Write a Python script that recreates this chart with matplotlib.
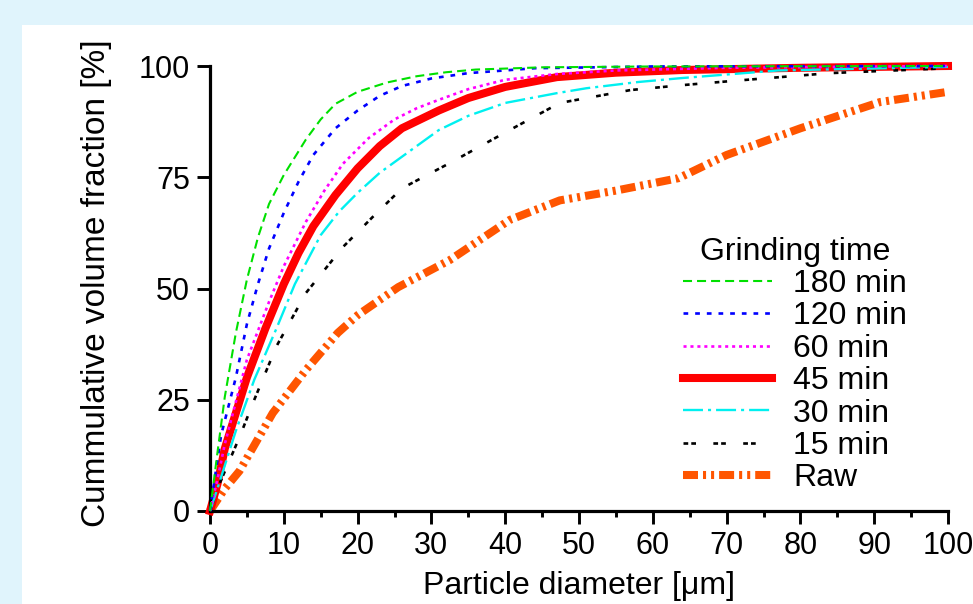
import matplotlib
matplotlib.use("Agg")
import matplotlib.pyplot as plt
from matplotlib.patches import Rectangle
from matplotlib.ticker import MultipleLocator

plt.rcParams['font.family'] = ['Liberation Sans', 'DejaVu Sans']
plt.rcParams['lines.scale_dashes'] = False

# ---- data ----
x_180 = [0, 1, 2, 3.5, 5, 6.5, 8, 10, 13, 15, 17, 20, 24, 28, 32, 36, 45, 60, 100]
y_180 = [0, 13, 25.6, 40, 52, 61.5, 69, 75.5, 83.5, 88, 91.5, 94.2, 96.3, 97.7, 98.6, 99.2, 99.7, 99.9, 100]

x_120 = [0, 1.5, 3.5, 5, 6.5, 8, 10, 12, 14, 17, 20, 23, 26, 30, 35, 44, 60, 100]
y_120 = [0, 17, 30, 42, 51, 59, 67, 74, 80, 86, 90, 93.3, 95.5, 97.2, 98.4, 99.5, 99.9, 100]

x_60 = [0, 1, 2, 5, 8, 10, 13, 15.5, 18, 21.5, 25, 28, 31, 35, 40, 47, 55, 70, 100]
y_60 = [0, 7, 15, 34, 47, 55, 65, 72, 78, 83.8, 88, 90.5, 92.4, 94.8, 96.9, 98.2, 99, 99.6, 100]

x_45 = [0, 1, 2, 5, 7.5, 10, 12, 14, 17, 20, 23, 26, 31, 35, 40, 47, 55, 64, 80, 100]
y_45 = [0, 6, 14, 30, 41, 51, 58, 64, 71, 77, 82, 86, 90, 92.8, 95.3, 97.5, 98.5, 99.1, 99.6, 100]

x_30 = [0, 1, 3.5, 6, 9, 11.5, 15, 17.5, 20, 23, 26, 31, 35, 40, 47, 51, 58, 64, 77, 100]
y_30 = [0, 5, 18, 29.5, 41, 51, 62, 67.3, 71.5, 76, 79.6, 85.6, 88.8, 91.7, 93.9, 95, 96.4, 97.3, 99, 99.8]

x_15 = [0, 1, 4, 6, 9, 13, 18, 22, 26, 32.5, 40.6, 47.4, 57, 64, 70.5, 84, 100]
y_15 = [0, 5, 16.6, 25, 37, 49, 59.3, 66, 72.5, 78.2, 85.6, 91.7, 94.6, 95.7, 96.6, 98.4, 99.5]

x_raw = [0, 2, 4, 8.5, 13, 17.3, 20, 25.5, 32.5, 40.6, 47.4, 55, 63.5, 70, 80, 90.8, 100]
y_raw = [0, 5, 9, 22, 31.7, 40, 44, 50.3, 56.4, 65.4, 69.8, 72, 74.8, 80, 86, 91.9, 94.2]

labels = ["180 min", "120 min", "60 min", "45 min", "30 min", "15 min", "Raw"]
x_ticks = [0, 10, 20, 30, 40, 50, 60, 70, 80, 90, 100]
y_ticks = [0, 25, 50, 75, 100]

W, H = 973, 604
fig = plt.figure(figsize=(W / 100, H / 100), dpi=100)
fig.patch.set_facecolor('#e0f4fc')
bg = fig.add_axes([0, 0, 1, 1], zorder=-10)
bg.set_axis_off()
bg.set_xlim(0, 1)
bg.set_ylim(0, 1)
bg.add_patch(Rectangle((22 / W, 0), 1 - 22 / W, 1 - 25 / H,
                       facecolor='white', edgecolor='none'))

ax = fig.add_axes([210 / W, 1 - 511 / H, (948 - 210) / W, (511 - 66) / H])
ax.set_facecolor('none')

ax.plot(x_raw, y_raw, color='#ff5500', lw=5.8, ls=(0, (10.8, 3.6, 2.2, 3.6, 2.2, 3.6)),
        clip_on=False, zorder=2, label=labels[6])
ax.plot(x_45, y_45, color='#ff0000', lw=5.8, ls='-', clip_on=False, zorder=2.5,
        label=labels[3])
ax.plot(x_15, y_15, color='black', lw=1.9, ls=(0, (3.4, 2.2, 3.4, 12.5)),
        clip_on=False, zorder=3, label=labels[5])
ax.plot(x_30, y_30, color='#00f0f0', lw=1.7, ls=(0, (14.4, 3.6, 2.2, 3.6)),
        clip_on=False, zorder=3, label=labels[4])
ax.plot(x_60, y_60, color='#ff00ff', lw=1.9, ls=(0, (2.2, 2.8)),
        clip_on=False, zorder=3, label=labels[2])
ax.plot(x_120, y_120, color='#0000ff', lw=1.9, ls=(0, (3.4, 5.0)),
        clip_on=False, zorder=3, label=labels[1])
ax.plot(x_180, y_180, color='#00e000', lw=1.5, ls=(0, (6.5, 3.6)),
        clip_on=False, zorder=3, label=labels[0])

ax.set_xlim(0, 100)
ax.set_ylim(0, 100)
ax.set_xticks(x_ticks)
ax.set_yticks(y_ticks)
ax.xaxis.set_minor_locator(MultipleLocator(5))
for s in ['top', 'right']:
    ax.spines[s].set_visible(False)
for s in ['left', 'bottom']:
    ax.spines[s].set_linewidth(2.3)
ax.tick_params(which='major', direction='out', length=9.4, width=2.1,
               labelsize=22)
ax.tick_params(axis='x', which='major', pad=5)
ax.tick_params(axis='y', which='major', pad=5)
ax.tick_params(which='minor', direction='out', length=4.5, width=2.1)

ax.set_xlabel("Particle diameter [μm]", fontsize=23, labelpad=7)
ax.set_ylabel("Cummulative volume fraction [%]", fontsize=24)
ax.yaxis.set_label_coords(-0.133, 0.513)

handles, labs = ax.get_legend_handles_labels()
order = [labs.index(l) for l in labels]
leg = ax.legend([handles[i] for i in order], [labs[i] for i in order],
                title="Grinding time", title_fontsize=23, fontsize=23,
                frameon=False, loc='center',
                bbox_to_anchor=(795 / W, 1 - 365 / H),
                bbox_transform=fig.transFigure,
                handlelength=2.8, handletextpad=0.66, labelspacing=0.075,
                borderpad=0, borderaxespad=0)

fig.savefig("out.png", dpi=100, facecolor=fig.get_facecolor())
